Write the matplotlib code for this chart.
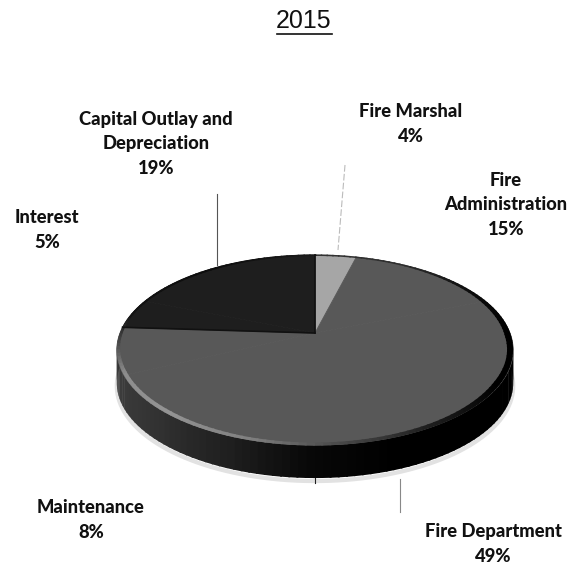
#!/usr/bin/env python

import numpy as np
import matplotlib
matplotlib.use('Agg')
import matplotlib.pyplot as plt

title = '2015'
labels = ['Fire Marshal', 'Fire\nAdministration', 'Fire Department',
          'Maintenance', 'Interest', 'Capital Outlay and\nDepreciation']
values = [4, 15, 49, 8, 5, 19]
slice_colors = ['#a6a6a6', '#585858', '#585858', '#585858', '#1e1e1e', '#1e1e1e']

# Label anchors in image pixels
label_pos = [(411, 124), (506, 205), (493, 544), (91, 520), (47, 230), (156, 144)]

# Pie geometry in image pixels
cx, cy = 315, 333
rx, ry = 195, 92
persp = 0.179
depth = 33


def project(theta, r=1.0):
    # theta in degrees clockwise from the top, perspective tilted disc
    t = np.radians(theta)
    x = r * np.sin(t)
    y = r * np.cos(t)
    w = 1 + persp * y
    return cx + rx * x / w, cy - ry * y / w


fig = plt.figure(figsize=(5.79, 5.67), dpi=100)
ax = fig.add_axes([0, 0, 1, 1])
ax.set_xlim(0, 579)
ax.set_ylim(567, 0)
ax.axis('off')

# Faint shadow under the pie
th = np.linspace(80, 280, 200)
sx, sy = project(th)
ax.plot(sx, sy + depth + 3, color='#e2e2e2', lw=3, zorder=1)

# Side wall, shaded by angle
wall_angles = [70, 100, 130, 160, 180, 200, 225, 250, 270, 290]
wall_shades = [0.0, 0.0, 0.0, 0.0, 0.03, 0.12, 0.2, 0.24, 0.2, 0.15]
edges = np.arange(70, 290, 2.0)
for a in edges:
    tt = np.linspace(a, a + 2.5, 4)
    x0, y0 = project(tt)
    xs = np.concatenate([x0, x0[::-1]])
    ys = np.concatenate([y0, y0[::-1] + depth])
    g = np.interp(a, wall_angles, wall_shades)
    ax.fill(xs, ys, color=str(g), lw=0, zorder=2)

# Top face
start = 0.0
for v, c in zip(values, slice_colors):
    sweep = 360.0 * v / sum(values)
    tt = np.linspace(start, start + sweep, 80)
    x0, y0 = project(tt)
    ax.fill(np.r_[cx, x0], np.r_[cy, y0], facecolor=c, edgecolor=c, lw=0.6, zorder=3)
    start += sweep

# Bevel along the rim of the top face
rim_angles = [0, 30, 60, 90, 120, 150, 175, 195, 220, 245, 262, 280, 320, 360]
rim_shades = [.2, .18, .05, .0, .0, .12, .3, .5, .58, .55, .3, .08, .05, .1]
rim_widths = [1.5, 1.5, 3, 6, 6, 4, 3, 3, 4, 4, 3, 2, 2, 1.5]
for a in np.arange(0, 360, 2.0):
    tt = np.linspace(a, a + 2.5, 4)
    g = np.interp(a, rim_angles, rim_shades)
    w = np.interp(a, rim_angles, rim_widths)
    x0, y0 = project(tt, 1 - w / 2.0 / rx)
    ax.plot(x0, y0, color=str(g), lw=w * 0.72, zorder=4, solid_capstyle='butt')

# Edges of the dark slices
dark_end = 360.0 * sum(values[:4]) / sum(values)
ex, ey = project(np.array([dark_end]))
ax.plot([cx, ex[0]], [cy, ey[0]], color='#111111', lw=1.2, zorder=5)
ax.plot([cx, cx], [cy, cy - ry / (1 + persp)], color='#111111', lw=1.2, zorder=5)

# Leader lines
ax.plot([217, 217], [194, 265], color='#555555', lw=0.8, zorder=1)
ax.plot([345, 338], [165, 250], color='#bbbbbb', lw=0.8, ls=(0, (6, 2)), zorder=1)
ax.plot([400, 400], [479, 512], color='#888888', lw=0.8, zorder=1)
ax.plot([315, 315], [478, 483], color='#222222', lw=0.8, zorder=1)

# Labels
for name, v, (x, y) in zip(labels, values, label_pos):
    ax.text(x, y, '%s\n%d%%' % (name, v), ha='center', va='center',
            family='Lato', fontweight='black', fontsize=13.2,
            color='#111111', linespacing=1.55)

ax.text(304, 21, title, ha='center', va='center', family='Liberation Sans',
        fontsize=18, color='#111111')
ax.plot([277, 332], [34, 34], color='#111111', lw=1.2)

fig.savefig('out.png', dpi=100)
